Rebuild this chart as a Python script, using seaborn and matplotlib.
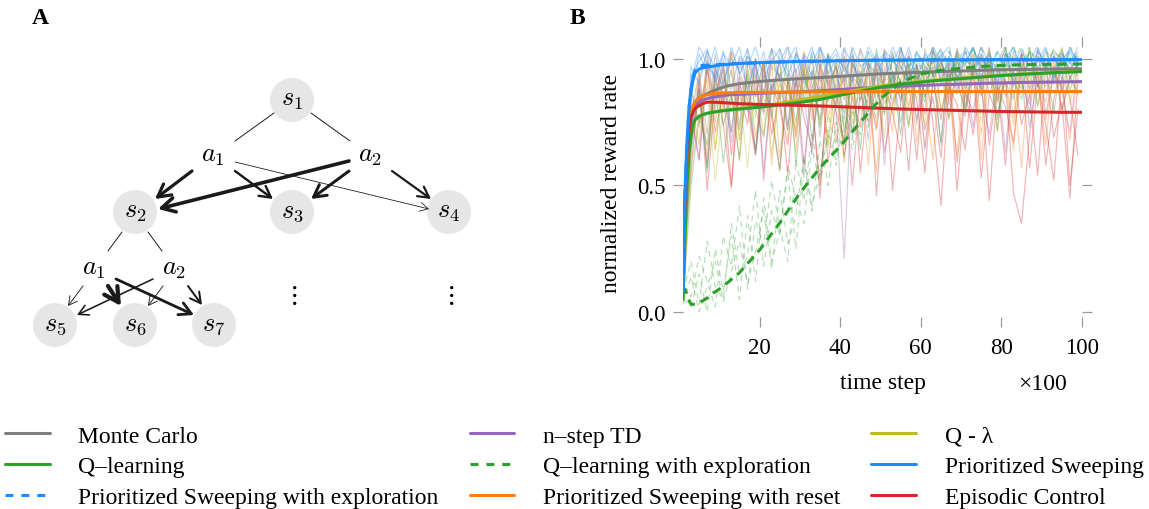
import numpy as np
import pandas as pd
import matplotlib
matplotlib.use("Agg")
import matplotlib.pyplot as plt
from matplotlib.patches import Circle
from matplotlib.lines import Line2D
import seaborn as sns

sns.set_theme(style="white")
plt.rcParams['font.family'] = ['Liberation Serif', 'DejaVu Serif']
plt.rcParams['mathtext.fontset'] = 'cm'
plt.rcParams['text.color'] = 'black'
plt.rcParams['axes.labelcolor'] = 'black'

# ---------------- data (panel B) ----------------
t_mean = [1, 1.5, 2, 2.5, 3, 3.5, 4, 5, 6, 7, 8, 10, 12, 15, 20, 25, 30, 35, 40,
          45, 50, 55, 60, 65, 70, 75, 80, 85, 90, 95, 100]

monte_carlo = [0.12, 0.40, 0.60, 0.72, 0.78, 0.81, 0.83, 0.845, 0.855, 0.862, 0.87, 0.883,
               0.893, 0.902, 0.911, 0.917, 0.922, 0.926, 0.931, 0.936, 0.941, 0.944, 0.947,
               0.950, 0.952, 0.955, 0.957, 0.958, 0.959, 0.960, 0.961]
nstep_td = [0.10, 0.40, 0.60, 0.70, 0.76, 0.79, 0.81, 0.83, 0.838, 0.843, 0.847, 0.853,
            0.857, 0.860, 0.864, 0.867, 0.870, 0.874, 0.879, 0.884, 0.888, 0.892, 0.895,
            0.898, 0.900, 0.903, 0.905, 0.907, 0.908, 0.909, 0.910]
q_lambda = [0.05, 0.30, 0.50, 0.63, 0.70, 0.74, 0.76, 0.773, 0.780, 0.785, 0.788, 0.794,
            0.799, 0.804, 0.812, 0.825, 0.838, 0.852, 0.866, 0.879, 0.893, 0.903, 0.911,
            0.918, 0.924, 0.930, 0.936, 0.940, 0.944, 0.948, 0.951]
q_learning = [0.05, 0.30, 0.50, 0.63, 0.70, 0.74, 0.76, 0.773, 0.780, 0.785, 0.788, 0.793,
              0.797, 0.802, 0.809, 0.818, 0.828, 0.840, 0.856, 0.872, 0.888, 0.900, 0.908,
              0.916, 0.922, 0.928, 0.934, 0.939, 0.943, 0.947, 0.950]
q_learning_explore = [0.075, 0.09, 0.07, 0.045, 0.03, 0.03, 0.03, 0.037, 0.045, 0.055, 0.07,
                      0.09, 0.115, 0.155, 0.245, 0.352, 0.47, 0.57, 0.655, 0.75, 0.842,
                      0.908, 0.94, 0.955, 0.963, 0.97, 0.974, 0.977, 0.978, 0.979, 0.98]
prio_sweep = [0.08, 0.48, 0.68, 0.81, 0.88, 0.92, 0.945, 0.96, 0.965, 0.968, 0.97, 0.975,
              0.978, 0.982, 0.985, 0.988, 0.990, 0.991, 0.993, 0.994, 0.995, 0.995, 0.996,
              0.996, 0.996, 0.997, 0.997, 0.997, 0.997, 0.997, 0.997]
prio_sweep_explore = [0.08, 0.45, 0.66, 0.80, 0.88, 0.93, 0.955, 0.97, 0.975, 0.975, 0.975,
                      0.978, 0.979, 0.982, 0.985, 0.988, 0.990, 0.991, 0.993, 0.994, 0.995,
                      0.995, 0.996, 0.996, 0.996, 0.997, 0.997, 0.997, 0.997, 0.997, 0.997]
prio_sweep_reset = [0.15, 0.45, 0.63, 0.73, 0.79, 0.815, 0.83, 0.845, 0.853, 0.858, 0.861,
                    0.864, 0.866, 0.867, 0.868, 0.869, 0.869, 0.870, 0.870, 0.870, 0.871,
                    0.871, 0.871, 0.871, 0.871, 0.871, 0.871, 0.871, 0.871, 0.871, 0.871]
episodic_control = [0.20, 0.45, 0.62, 0.72, 0.77, 0.79, 0.805, 0.815, 0.824, 0.829, 0.829,
                    0.828, 0.826, 0.823, 0.820, 0.818, 0.816, 0.814, 0.811, 0.808, 0.805,
                    0.802, 0.800, 0.798, 0.796, 0.794, 0.792, 0.791, 0.790, 0.789, 0.789]

# individual (noisy) runs, sampled every 2 steps
t_run = list(range(1, 101, 2))
run_ps_1 = [0.10,0.93,0.99,1.04,0.91,1.02,0.97,1.05,0.88,1.00,0.95,1.04,0.92,0.99,1.05,0.90,1.03,0.97,1.01,0.86,
            1.04,0.98,0.93,1.05,0.99,1.02,0.90,1.04,0.97,1.00,0.94,1.05,0.99,0.91,1.03,0.98,1.05,0.93,1.00,0.96,
            1.04,0.89,1.02,0.99,1.05,0.95,1.01,0.92,1.04,0.99]
run_ps_2 = [0.08,0.85,1.02,0.94,1.05,0.90,1.00,0.96,1.04,0.92,1.03,0.87,0.99,1.05,0.95,1.01,0.93,1.04,0.98,1.02,
            0.91,1.05,0.97,0.99,0.88,1.03,1.00,0.95,1.05,0.92,1.02,0.98,1.04,0.96,0.90,1.05,0.99,1.01,0.94,1.03,
            0.97,1.05,0.93,1.00,0.96,1.04,0.91,1.02,0.98,1.05]
run_ps_3 = [0.12,0.97,0.90,1.03,0.96,0.89,1.05,0.94,1.01,0.97,0.86,1.04,1.00,0.93,1.02,0.97,1.05,0.91,0.99,1.04,
            0.95,1.01,0.88,1.03,0.98,0.94,1.05,0.97,0.92,1.02,0.99,1.04,0.90,1.01,0.96,1.03,0.93,1.05,0.98,0.91,
            1.02,0.97,1.04,0.94,0.99,1.05,0.92,1.00,1.03,0.96]
run_ps_4 = [0.09,0.90,1.05,0.98,0.93,1.03,0.88,1.01,0.97,1.05,0.92,0.99,1.04,0.95,0.89,1.02,0.98,1.05,0.94,1.00,
            0.97,0.91,1.04,0.96,1.02,0.93,0.99,1.05,0.90,1.03,0.97,0.94,1.01,1.05,0.92,0.98,1.04,0.95,1.02,0.89,
            1.00,1.05,0.96,0.93,1.03,0.98,1.01,0.94,1.05,0.97]
run_mc_1 = [0.12,0.78,0.95,0.70,1.02,0.84,0.96,0.74,1.04,0.88,0.79,1.00,0.92,0.72,1.03,0.94,0.83,1.05,0.90,0.97,
            0.76,1.02,0.93,0.99,0.82,1.04,0.95,0.87,1.01,0.97,0.78,1.05,0.92,0.99,0.86,1.03,0.96,0.91,1.05,0.84,
            0.99,0.94,1.02,0.88,1.04,0.97,0.90,1.01,0.95,1.03]
run_mc_2 = [0.14,0.66,0.92,1.03,0.80,0.97,0.71,0.94,1.01,0.85,0.99,0.77,1.04,0.90,0.96,0.82,1.02,0.69,0.98,0.93,
            1.05,0.86,0.95,0.79,1.00,0.91,1.03,0.84,0.97,0.74,1.04,0.93,0.99,0.88,1.02,0.81,0.96,1.05,0.90,0.98,
            0.85,1.03,0.92,0.79,1.01,0.95,1.04,0.87,0.99,0.93]
run_mc_3 = [0.10,0.88,0.75,0.99,0.91,0.82,1.03,0.95,0.86,1.00,0.78,0.97,0.93,1.05,0.84,0.99,0.90,0.76,1.02,0.96,
            0.89,1.04,0.83,0.98,0.94,1.01,0.87,1.05,0.92,0.97,0.85,1.03,0.99,0.91,1.04,0.88,0.96,1.02,0.93,0.99,
            1.05,0.90,0.97,1.03,0.89,1.00,0.95,1.04,0.92,0.98]
run_psr_1 = [0.15,0.70,0.95,0.62,0.98,0.80,1.03,0.68,0.92,0.85,1.00,0.58,0.94,0.88,0.72,1.02,0.83,0.96,0.66,0.99,
             0.90,0.78,1.04,0.86,0.55,0.97,0.89,1.01,0.74,0.93,0.87,0.60,0.99,0.84,1.03,0.79,0.95,0.70,1.00,0.88,
             0.92,0.64,1.02,0.85,0.97,0.76,0.94,0.89,0.68,0.96]
run_psr_2 = [0.12,0.82,0.66,1.01,0.75,0.93,0.87,0.60,0.99,0.91,0.70,1.04,0.84,0.94,0.63,0.97,0.88,1.02,0.77,0.90,
             0.59,1.00,0.86,0.95,0.73,1.03,0.82,0.92,0.98,0.67,0.94,1.01,0.80,0.89,0.62,0.98,0.92,0.85,1.04,0.71,
             0.96,0.88,0.57,0.99,0.90,0.83,1.02,0.78,0.93,0.87]
run_psr_3 = [0.14,0.88,0.73,0.97,0.64,0.91,1.02,0.79,0.95,0.69,0.87,0.99,0.61,0.93,0.83,1.03,0.76,0.90,0.96,0.67,
             1.01,0.84,0.92,0.58,0.98,0.88,0.71,1.04,0.81,0.95,0.65,0.90,1.00,0.77,0.94,0.86,1.02,0.60,0.97,0.83,
             0.91,0.74,1.03,0.88,0.95,0.66,0.99,0.80,0.92,0.98]
run_td_1 = [0.10,0.65,0.90,0.58,0.97,0.83,0.71,1.00,0.88,0.62,0.94,0.86,0.99,0.74,0.91,0.53,0.96,0.85,1.02,0.79,
            0.21,0.93,0.89,0.68,1.01,0.87,0.95,0.75,0.92,0.98,0.64,0.90,1.03,0.82,0.94,0.77,0.99,0.88,0.70,0.96,
            0.91,0.84,1.02,0.73,0.95,0.89,0.97,0.80,0.93,0.99]
run_td_2 = [0.11,0.77,0.60,0.95,0.84,1.00,0.67,0.91,0.79,0.98,0.56,0.89,0.94,0.72,1.02,0.85,0.62,0.97,0.90,0.81,
            1.01,0.69,0.93,0.87,0.99,0.58,0.95,0.83,1.03,0.76,0.91,0.97,0.66,1.00,0.88,0.94,0.73,1.02,0.86,0.96,
            0.63,0.99,0.90,0.82,1.04,0.78,0.95,0.88,0.71,1.01]
run_ec_1 = [0.20,0.55,0.92,0.48,0.85,0.97,0.62,0.88,0.74,1.00,0.52,0.90,0.81,0.66,0.95,0.58,0.86,0.45,0.93,0.79,
            0.68,0.99,0.55,0.87,0.72,0.94,0.48,0.83,0.91,0.60,0.97,0.75,0.42,0.89,0.82,0.64,0.96,0.53,0.86,0.78,
            0.92,0.47,0.35,0.70,0.95,0.58,0.84,0.99,0.50,0.80]
run_ec_2 = [0.18,0.80,0.60,0.98,0.71,0.87,0.50,0.93,0.84,0.64,0.99,0.77,0.56,0.91,0.69,0.95,0.82,0.51,0.88,0.97,
            0.61,0.85,0.73,1.00,0.46,0.90,0.79,0.63,0.96,0.84,0.55,0.92,0.76,0.98,0.59,0.87,0.70,0.94,0.44,0.89,
            0.81,0.67,0.97,0.57,0.91,0.74,0.52,0.93,0.85,0.62]
run_ec_3 = [0.22,0.68,0.88,0.57,0.95,0.74,0.49,0.90,0.81,0.62,0.97,0.70,0.86,0.54,0.92,0.77,0.65,0.99,0.59,0.84,
            0.93,0.50,0.88,0.75,0.96,0.63,0.82,0.91,0.56,0.98,0.72,0.85,0.61,0.94,0.48,0.87,0.79,0.99,0.66,0.90,
            0.58,0.95,0.74,0.86,0.54,0.97,0.69,0.83,0.45,0.92]
run_ql_1 = [0.05,0.62,0.88,0.55,0.93,0.74,0.86,0.60,0.97,0.80,0.69,0.92,0.84,1.00,0.58,0.89,0.95,0.73,1.02,0.87,
            0.66,0.98,0.91,0.79,1.04,0.85,0.94,0.70,1.01,0.92,0.83,1.03,0.96,0.76,0.99,0.90,1.05,0.86,0.97,0.72,
            1.02,0.94,0.88,1.04,0.81,0.98,0.93,1.03,0.87,0.99]
run_ql_3 = [0.04,0.50,0.78,0.66,0.90,0.59,0.85,0.72,0.94,0.63,0.88,0.80,0.56,0.92,0.75,0.97,0.68,0.89,0.83,1.00,
            0.71,0.93,0.64,0.96,0.87,0.78,1.02,0.90,0.73,0.98,0.85,0.94,0.67,1.01,0.91,0.80,0.99,0.88,1.03,0.76,
            0.95,0.92,0.84,1.04,0.89,0.97,0.79,1.00,0.93,0.86]
run_ql_2 = [0.06,0.70,0.83,0.92,0.64,0.96,0.79,0.88,0.57,0.94,0.85,0.76,0.99,0.68,0.91,0.87,1.01,0.74,0.95,0.82,
            0.98,0.71,0.93,1.03,0.86,0.90,0.78,1.00,0.94,0.84,0.97,1.04,0.80,0.92,0.99,0.88,1.02,0.75,0.96,0.91,
            1.05,0.85,0.98,0.93,0.82,1.03,0.95,0.89,1.01,0.96]
run_ql_4 = [0.05,0.58,0.74,0.89,0.52,0.82,0.95,0.68,0.87,0.77,0.99,0.62,0.90,0.84,0.71,0.96,0.80,1.01,0.65,0.92,
            0.88,0.75,0.98,0.85,0.93,0.69,1.02,0.90,0.81,0.97,0.74,1.00,0.92,0.86,1.04,0.79,0.95,0.89,0.99,0.83,
            1.03,0.77,0.96,0.91,1.01,0.87,0.94,1.05,0.82,0.98]
run_qlx_1 = [0.05,0.02,0.15,0.00,0.25,0.08,0.30,0.05,0.38,0.12,0.45,0.20,0.32,0.55,0.25,0.60,0.40,0.68,0.50,0.75,
             0.62,0.80,0.70,0.88,0.76,0.92,0.83,0.97,0.88,1.00,0.91,0.96,1.02,0.93,0.99,1.04,0.95,1.00,0.97,1.03,
             0.94,1.01,0.98,1.05,0.96,1.00,0.99,1.03,0.95,1.02]
run_qlx_2 = [0.08,0.20,0.03,0.28,0.10,0.05,0.35,0.15,0.22,0.48,0.18,0.40,0.30,0.58,0.45,0.35,0.65,0.50,0.72,0.60,
             0.80,0.68,0.85,0.74,0.90,0.82,0.94,0.87,0.98,0.90,1.01,0.93,0.97,1.03,0.92,1.00,0.96,1.04,0.98,0.94,
             1.02,0.99,1.05,0.95,1.01,0.97,1.03,1.00,0.96,1.04]
run_qlx_3 = [0.10,0.06,0.22,0.12,0.02,0.30,0.18,0.42,0.09,0.36,0.26,0.52,0.33,0.20,0.60,0.44,0.70,0.54,0.78,0.66,
             0.85,0.72,0.92,0.80,0.96,0.86,1.00,0.91,0.97,1.03,0.94,0.99,1.04,0.93,1.01,0.97,1.05,0.95,0.99,1.02,
             0.96,1.04,0.98,1.01,0.94,1.03,1.00,0.97,1.05,0.99]
run_qlx_4 = [0.03,0.14,0.00,0.10,0.20,0.04,0.16,0.28,0.11,0.24,0.40,0.17,0.48,0.27,0.38,0.62,0.42,0.55,0.70,0.58,
             0.76,0.64,0.82,0.73,0.88,0.79,0.93,0.84,0.97,0.89,1.00,0.94,0.98,1.03,0.95,1.00,1.04,0.97,1.02,0.95,
             1.05,0.99,0.96,1.03,1.00,0.97,1.04,0.98,1.02,1.00]

MC, TD, QL_LAM = "Monte Carlo", "n\u2013step TD", "Q - \u03bb"
QL, QLX, PS = "Q\u2013learning", "Q\u2013learning with exploration", "Prioritized Sweeping"
PSX, PSR, EC = "Prioritized Sweeping with exploration", "Prioritized Sweeping with reset", "Episodic Control"

colors = {MC: "#7f7f7f", TD: "#9467bd", QL_LAM: "#bcbd22", QL: "#2ca02c", QLX: "#2ca02c",
          PS: "#1a8cff", PSX: "#1a8cff", PSR: "#ff7f0e", EC: "#d62728"}
dashed = {QLX, PSX}
means = {MC: monte_carlo, TD: nstep_td, QL_LAM: q_lambda, QL: q_learning, QLX: q_learning_explore,
         PS: prio_sweep, PSX: prio_sweep_explore, PSR: prio_sweep_reset, EC: episodic_control}
runs = [(EC, run_ec_1), (EC, run_ec_2), (EC, run_ec_3),
        (PSR, run_psr_1), (PSR, run_psr_2), (PSR, run_psr_3),
        (TD, run_td_1), (TD, run_td_2),
        (QL, run_ql_1), (QL, run_ql_3), (QL_LAM, run_ql_2), (QL_LAM, run_ql_4),
        (MC, run_mc_1), (MC, run_mc_2), (MC, run_mc_3),
        (QLX, run_qlx_1), (QLX, run_qlx_2), (QLX, run_qlx_3), (QLX, run_qlx_4),
        (PS, run_ps_1), (PS, run_ps_3), (PSX, run_ps_2), (PSX, run_ps_4)]

# ---------------- data (panel A diagram) ----------------
state_names = ["s_1", "s_2", "s_3", "s_4", "s_5", "s_6", "s_7"]
state_pos = [(292, 101), (135, 213), (292, 213), (449, 213), (55, 326), (135, 326), (214, 326)]
action_names = ["a_1", "a_2", "a_1", "a_2"]
action_pos = [(213, 157), (370, 157), (94, 270), (174, 270)]
plain_links = [((274, 114), (235, 142)), ((311, 114), (350, 142)),
               ((122, 233), (108, 252)), ((148, 233), (162, 252))]
arrow_links = [((192, 172), (155, 200), 3.2), ((235, 172), (273, 200), 2.4),
               ((235, 163), (429, 210), 0.8), ((349, 162), (158, 210), 3.6),
               ((349, 172), (311, 200), 3.0), ((392, 172), (431, 200), 2.2),
               ((83, 287), (68, 307), 0.9), ((108, 287), (121, 307), 4.2),
               ((116, 280), (194, 316), 2.8), ((153, 280), (77, 316), 1.6),
               ((163, 287), (148, 307), 0.9), ((188, 287), (202, 306), 2.0)]
vdots_pos = [(292, 296), (449, 296)]

W, H = 1149, 510
fig = plt.figure(figsize=(W / 100, H / 100), dpi=100)

# ---------------- panel A ----------------
axA = fig.add_axes([0, 0, 0.5, 1])
axA.set_xlim(0, W / 2)
axA.set_ylim(H, 0)
axA.axis("off")
for name, (x, y) in zip(state_names, state_pos):
    axA.add_patch(Circle((x, y), 22, facecolor="#e6e6e6", edgecolor="none", zorder=1))
    axA.text(x, y, f"${name}$", ha="center", va="center", fontsize=19, zorder=3)
for name, (x, y) in zip(action_names, action_pos):
    axA.text(x, y, f"${name}$", ha="center", va="center", fontsize=19, zorder=3)
for (x0, y0), (x1, y1) in plain_links:
    axA.plot([x0, x1], [y0, y1], color="k", lw=0.7, zorder=2)
for (x0, y0), (x1, y1), w in arrow_links:
    lw = w * 0.72
    axA.annotate("", xy=(x1, y1), xytext=(x0, y0),
                 arrowprops=dict(arrowstyle="->,head_length=0.55,head_width=0.3",
                                 lw=lw, color="k", shrinkA=0, shrinkB=0,
                                 mutation_scale=9 + 3.2 * lw), zorder=2)
for x, y in vdots_pos:
    axA.text(x, y, r"$\vdots$", ha="center", va="center", fontsize=19)
fig.text(40 / W, 1 - 19 / H, "A", fontsize=17, fontweight="bold", ha="center", va="center")
fig.text(577 / W, 1 - 19 / H, "B", fontsize=17, fontweight="bold", ha="center", va="center")

# ---------------- panel B ----------------
ax = fig.add_axes([683 / W, 1 - 318 / H, (1082 - 683) / W, (318 - 48) / H])
for name, vals in runs:
    ls = (0, (5, 4)) if name == QLX else "-"
    sns.lineplot(x=t_run, y=vals, ax=ax, color=colors[name], lw=0.85, alpha=0.34,
                 linestyle=ls, zorder=1)

draw_order = [MC, TD, QL_LAM, QL, PSR, EC, QLX, PSX, PS]
for name in draw_order:
    ls = (0, (3, 2)) if name in dashed else "-"
    sns.lineplot(x=t_mean, y=means[name], ax=ax, color=colors[name], lw=2.2,
                 linestyle=ls, zorder=3)

ax.set_xlim(1, 100)
ax.set_ylim(-0.02, 1.047)
ax.set_xticks([20, 40, 60, 80, 100])
ax.set_yticks([0.0, 0.5, 1.0])
ax.set_yticklabels(["0.0", "0.5", "1.0"])
for s in ax.spines.values():
    s.set_visible(False)
ax.tick_params(axis="both", which="both", direction="out", length=7.5, width=0.9,
               color="#9a9a9a", labelsize=16.5, labelcolor="black",
               top=True, right=True, bottom=True, left=True,
               labeltop=False, labelright=False, pad=5)
ax.tick_params(axis="x", pad=7)
ax.set_ylabel("normalized reward rate", fontsize=17, labelpad=11)
ax.set_xlabel("time step", fontsize=17, labelpad=10)
ax.text(1042 / W, 1 - 385 / H, "\u00d7100", transform=fig.transFigure, fontsize=17,
        ha="center", va="center")
ax.grid(False)

# ---------------- legend ----------------
legend_order = [MC, QL, PSX, TD, QLX, PSR, QL_LAM, PS, EC]
handles = [Line2D([], [], color=colors[n], lw=2.2,
                  linestyle=(0, (2.6, 2.6)) if n in dashed else "-") for n in legend_order]
fig.legend(handles, legend_order, loc="upper left", bbox_to_anchor=(5 / W, 1 - 426 / H),
           ncol=3, frameon=False, fontsize=17.0, handlelength=1.9, handletextpad=1.2,
           columnspacing=1.32, labelspacing=0.4, borderpad=0, borderaxespad=0)

fig.savefig("out.png", dpi=100)
